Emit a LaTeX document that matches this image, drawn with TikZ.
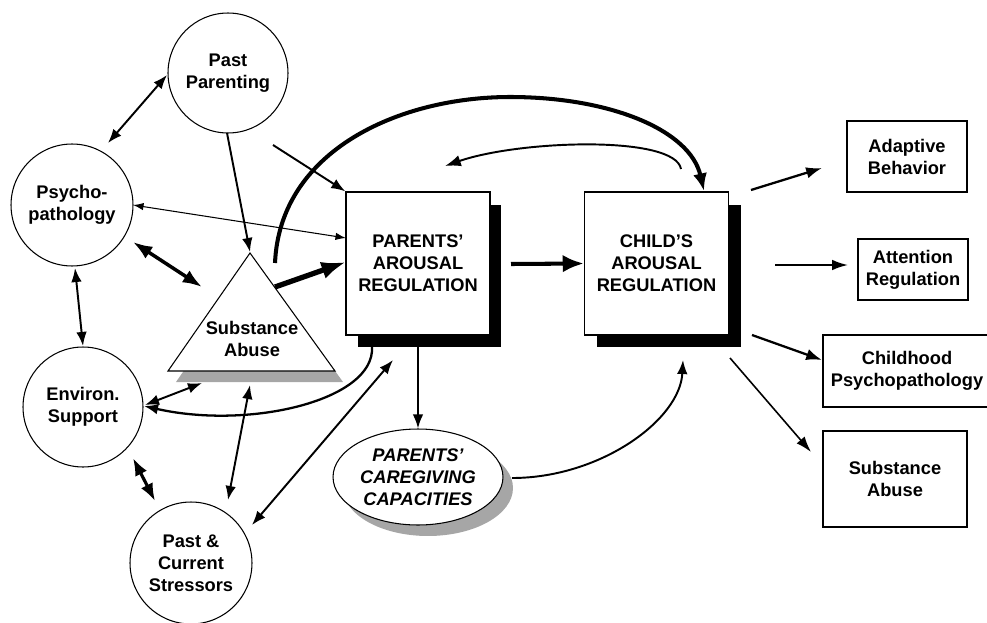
\documentclass[tikz,border=0pt]{standalone}
\usepackage{fontspec}
\setmainfont{Liberation Sans}
\usetikzlibrary{arrows.meta,shapes.geometric}
\begin{document}
\begin{tikzpicture}[x=0.02cm,y=-0.02cm,
  every node/.style={font=\fontsize{10.4}{12.5}\selectfont\bfseries, align=center, inner sep=0pt},
  circ/.style={circle, draw, line width=0.6pt, minimum size=#1, fill=white},
  bigbox/.style={draw, fill=white, line width=0.8pt, minimum width=2.88cm, minimum height=2.86cm},
  outbox/.style={draw, line width=0.8pt},
  tip/.style={Latex[length=8pt,width=6pt]},
  arr/.style={line width=1.1pt, -{Latex[length=8pt,width=6pt]}},
  biarr/.style={line width=1.1pt, {Latex[length=8pt,width=6pt]}-{Latex[length=8pt,width=6pt]}},
  thinbi/.style={line width=0.6pt, {Latex[length=6pt,width=4.2pt]}-{Latex[length=6pt,width=4.2pt]}},
  thickbi/.style={line width=2pt, {Latex[length=11pt,width=8pt]}-{Latex[length=11pt,width=8pt]}},
  heavyarr/.style={line width=3pt, -{Latex[length=14pt,width=10pt]}},
  boldarr/.style={line width=2.3pt, -{Latex[length=12pt,width=10pt]}},
  shadowgray/.style={fill=black!35}
]
\useasboundingbox (0,0) rectangle (987,622);
\clip (0,0) rectangle (987,622);

% shadows
\fill (358,205) rectangle (501,347);
\fill (597,205) rectangle (741,347);
\fill[shadowgray] (258,264) -- (343,382) -- (176,382) -- cycle;
\fill[shadowgray] (428,488) ellipse [x radius=1.7cm, y radius=0.96cm];

% triangle
\draw[fill=white, line width=0.6pt] (250,253) -- (335,371) -- (168,371) -- cycle;
\node (tri) at (252,338.5) {Substance\\Abuse};

% circles
\node[circ=2.4cm]  (pp)  at (228,73)  {Past\\Parenting};
\node[circ=2.44cm] (psy) at (72,205)  {Psycho-\\pathology};
\node[circ=2.4cm]  (env) at (83,407)  {Environ.\\Support};
\node[circ=2.44cm] (str) at (191,563) {Past \&\\Current\\Stressors};

% main boxes
\node[bigbox] (par) at (418,263.5) {PARENTS'\\AROUSAL\\REGULATION};
\node[bigbox] (chi) at (656.5,263.5) {CHILD'S\\AROUSAL\\REGULATION};

% ellipse
\node[ellipse, draw, fill=white, line width=0.6pt, minimum width=3.4cm, minimum height=1.92cm,
      font=\fontsize{10.4}{12.5}\selectfont\bfseries\itshape] (ell) at (418,477) {PARENTS'\\CAREGIVING\\CAPACITIES};

% outcome boxes
\node[outbox, minimum width=2.4cm, minimum height=1.42cm] (ab) at (907,156.5) {Adaptive\\Behavior};
\node[outbox, minimum width=2.2cm, minimum height=1.22cm] (atr) at (913,269.5) {Attention\\Regulation};
\node[outbox, minimum width=3.7cm, minimum height=1.44cm] (cpbox) at (915.5,371) {};
\node (cp) at (907,371) {Childhood\\Psychopathology};
\node[outbox, minimum width=2.88cm, minimum height=1.92cm] (sa) at (895,479) {Substance\\Abuse};

% connector end points
\coordinate (ppA) at (167,75);   \coordinate (psyA) at (108,143);
\coordinate (ppB) at (227,133);  \coordinate (triApex) at (250,252);
\coordinate (free1) at (273,145);
\coordinate (psyB) at (133,205); \coordinate (parL1) at (346,238);
\coordinate (psyC) at (133,242); \coordinate (triL) at (202,287);
\coordinate (psyD) at (75,268);  \coordinate (envA) at (83,346);
\coordinate (triR) at (275,287); \coordinate (parL2) at (346,262);
\coordinate (triT) at (275,263); \coordinate (peak) at (510,97); \coordinate (chiT) at (704,191);
\coordinate (chiT2) at (681,169); \coordinate (parT) at (445,166);
\coordinate (envB) at (145,405); \coordinate (triB) at (202,383);
\coordinate (parB) at (372,347); \coordinate (envC) at (144,406);
\coordinate (triBase) at (250,385); \coordinate (strA) at (228,500);
\coordinate (envD) at (133,458); \coordinate (strB) at (155,501);
\coordinate (strC) at (252,525); \coordinate (parB2) at (393,360);
\coordinate (ellR) at (512,478); \coordinate (chiB) at (683,360);
\coordinate (parR) at (511,264);
\coordinate (chiR1) at (751,190); \coordinate (chiR2) at (775,265);
\coordinate (chiR3) at (752,335); \coordinate (chiR4) at (730,358);
\coordinate (abL) at (822,168); \coordinate (atrL) at (848,265);
\coordinate (cpL) at (822,360); \coordinate (saL) at (811,452);

% connectors
\draw[biarr] (ppA) -- (psyA);
\draw[arr] (ppB) -- (triApex);
\draw[arr] (free1) -- (par.north west);
\draw[thinbi] (psyB) -- (parL1);
\draw[thickbi] (psyC) -- (triL);
\draw[biarr] (psyD) -- (envA);
\draw[heavyarr] (triR) -- (parL2);
\draw[line width=2.3pt, -{Latex[length=10pt,width=8pt]}] (triT) .. controls (280,150) and (400,97) .. (peak)
      .. controls (610,97) and (690,130) .. (chiT);
\draw[line width=1.1pt, -{Latex[length=9pt,width=6.5pt]}] (chiT2) .. controls (675,135) and (520,140) .. (parT);
\draw[biarr] (envB) -- (triB);
\draw[line width=1.3pt, -{Latex[length=8pt,width=6pt]}] (parB) .. controls (375,400) and (250,430) .. (envC);
\draw[biarr] (triBase) -- (strA);
\draw[line width=1.8pt, {Latex[length=10pt,width=7.5pt]}-{Latex[length=10pt,width=7.5pt]}] (envD) -- (strB);
\draw[biarr] (strC) -- (parB2);
\draw[arr] (418,347) -- (ell.north);
\draw[line width=1.1pt, -{Latex[length=8pt,width=6pt]}] (ellR) .. controls (600,478) and (680,420) .. (chiB);
\draw[boldarr] (parR) -- (chi.west);
\draw[line width=1.3pt, -{Latex[length=9pt,width=6.5pt]}] (chiR1) -- (abL);
\draw[line width=1.1pt, -{Latex[length=9pt,width=6pt]}] (chiR2) -- (atrL);
\draw[line width=1.3pt, -{Latex[length=9pt,width=6.5pt]}] (chiR3) -- (cpL);
\draw[line width=0.9pt, -{Latex[length=9pt,width=6pt]}] (chiR4) -- (saL);
\end{tikzpicture}
\end{document}
